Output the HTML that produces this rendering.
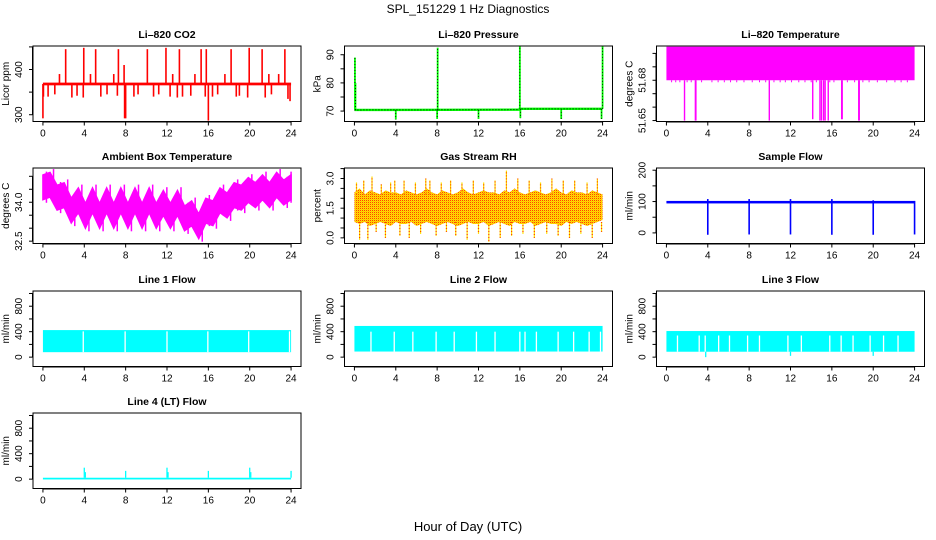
<!DOCTYPE html>
<html><head><meta charset="utf-8"><style>
html,body{margin:0;padding:0;background:#fff;}
svg{display:block;font-family:"Liberation Sans",Arial,sans-serif;}
</style></head><body>
<svg id="chart" width="936" height="540" viewBox="0 0 936 540">
<defs>
<pattern id="rhpat" width="2" height="2" patternUnits="userSpaceOnUse">
<rect width="2" height="2" fill="#ffe000"/><rect x="0" y="0" width="1" height="1" fill="#ff4000"/><rect x="1" y="1" width="1" height="1" fill="#ffc000"/>
</pattern>
</defs>
<text x="468" y="13" font-size="12" text-anchor="middle">SPL_151229  1 Hz Diagnostics</text>
<text x="468" y="531" font-size="13" text-anchor="middle">Hour of Day (UTC)</text>
</svg>
<script>
// ---- data ----
const xTicks=[0,4,8,12,16,20,24];
const co2Base=368;
const co2SpikeT=[0,0.05,0.5,1.15,1.6,2.2,2.8,3.3,3.9,3.95,4.6,5.1,5.6,6.2,6.85,7.2,7.3,7.85,7.9,8.0,8.8,9.2,10.1,10.7,11.2,11.9,12.3,12.55,13.0,13.2,13.5,14.3,14.7,15.3,15.7,15.8,16.0,16.4,16.9,17.6,18.2,18.7,19.0,19.8,19.95,21.2,21.5,21.85,22.1,22.8,23.4,23.7,23.9];
const co2SpikeV=[292,340,340,345,390,445,338,342,338,448,390,445,340,345,390,342,445,410,292,292,340,345,445,340,345,448,340,390,338,445,340,342,390,445,340,445,287,340,345,390,445,340,342,338,448,445,338,390,345,390,445,335,330];
const presBaseT=[0,16,16,24];
const presBaseV=[70.4,70.5,70.8,70.8];
const presSpikeT=[0.05,0.1,4,8,8.05,12,16,16.05,20,23.9,24];
const presSpikeV=[89,80,67,67.2,92.5,67.2,93,67.5,67.2,67.2,93];
const tempBandLo=51.680, tempBandHi=51.705;
const tempDipT=[1.75,2.8,2.85,9.95,14.15,14.85,15.0,15.2,15.35,15.65,16.95,17.0,18.6,18.65];
const tempDipV=[51.650,51.650,51.650,51.650,51.651,51.650,51.650,51.650,51.650,51.650,51.651,51.651,51.650,51.650];
const tempNotchT=[0.5,0.9,1.3,2.0,2.4,3.4,4.4,5.0,5.6,6.2,6.8,7.5,8.3,9.0,9.6,10.4,11.0,11.5,12.1,12.8,13.4,14.0,14.5,15.8,16.2,17.5,18.2,19.0,19.6,20.4,21.3,22.1,22.7,23.3];
const ambStep=0.685;
const ambCenter=[34.6,34.7,34.2,34.3,33.7,34.1,33.5,34.1,33.5,34.1,33.5,34.1,33.5,34.1,33.5,34.1,33.5,34.0,33.5,34.0,33.4,33.6,33.1,33.7,33.6,34.1,33.9,34.3,34.2,34.5,34.3,34.6,34.3,34.7,34.4,34.6];
const rhUpper=[2.3,2.5,2.2,2.4,2.3,2.2,2.4,2.3,2.3,2.2,2.4,2.3,2.2,2.3,2.5,2.3,2.2,2.4,2.3,2.2,2.3,2.5,2.3,2.2,2.3,2.4,2.3,2.3,2.2,2.4,2.3,2.5,2.3,2.2,2.3,2.4,2.3,2.2,2.3,2.5,2.3,2.2,2.4,2.3,2.3,2.2,2.4,2.3,2.2];
const rhLower=[0.8,0.7,0.8,0.6,0.7,0.8,0.7,0.6,0.8,0.7,0.7,0.8,0.6,0.7,0.8,0.7,0.6,0.7,0.8,0.7,0.6,0.7,0.8,0.7,0.7,0.8,0.6,0.7,0.8,0.7,0.6,0.8,0.7,0.7,0.8,0.6,0.7,0.8,0.7,0.7,0.6,0.8,0.7,0.8,0.7,0.6,0.7,0.8,0.9];
const rhSpikeT=[0.2,0.5,0.9,1.3,1.7,2.1,2.6,3.0,3.5,3.9,4.4,4.8,5.3,5.9,6.4,6.9,7.3,7.9,8.4,8.9,9.3,9.8,10.4,10.9,11.5,12.0,12.5,13.0,13.6,14.1,14.7,15.2,15.8,16.3,16.9,17.4,18.0,18.6,19.1,19.7,20.2,20.8,21.3,21.9,22.5,23.0,23.5,23.9];
const rhSpikeV=[2.8,-0.1,2.9,-0.1,3.1,0.3,2.7,0.0,2.8,2.9,0.1,2.9,0.0,2.8,0.2,3.0,2.9,0.1,2.8,0.3,2.9,0.1,2.8,-0.1,2.9,0.2,2.8,-0.2,2.9,0.0,3.4,0.1,3.0,0.2,2.9,0.0,2.8,0.2,3.0,0.1,2.9,0.0,2.9,0.2,2.8,0.0,3.0,0.3];
const sfBandLo=94, sfBandHi=102;
const sfDipT=[4,8,12,16,20,24];
const sfDipV=[-6,-5,-5,-6,-6,-5];
const sfUpV=[108,108,108,108,104,102];
const l1Lo=78, l1Hi=425;
const l1GapT=[3.9,7.95,12.0,15.95,19.9,23.85];
const l2Lo=88, l2Hi=490;
const l2GapT=[1.6,3.85,5.65,7.9,9.65,11.8,13.6,16.0,16.5,17.6,19.7,21.2,22.7,23.8];
const l3Lo=85, l3Hi=410;
const l3GapT=[1.07,3.17,3.75,5.05,6.1,7.85,9.0,11.75,13.05,15.8,16.9,18.05,19.7,21.0,22.4];
const l3DipT=[3.8,12.0,20.0];
const l3DipV=[0,20,20];
const l4Lo=-5, l4Hi=22;
const l4SpikeT=[4,4.1,8,12,12.1,16,20,20.1,24];
const l4SpikeV=[180,110,130,180,110,130,180,110,130];

// ---- layout ----
const NS='http://www.w3.org/2000/svg';
const svg=document.getElementById('chart');
function mk(tag,attrs,parent){const e=document.createElementNS(NS,tag);for(const k in attrs)e.setAttribute(k,attrs[k]);(parent||svg).appendChild(e);return e;}
const XLIM=[-0.96,24.96];
const colLeft=[33,344.5,656.5], rowTop=[46,168,291,413];
const W=268,H=75.5;

function panel(name,col,row,title,ylab,ylim,yTicks,yLabels){
  const L=colLeft[col],T=rowTop[row];
  const g=mk('g',{});
  
  
  const sx=t=>L+(t-XLIM[0])/(XLIM[1]-XLIM[0])*W;
  const sy=v=>T+H-(v-ylim[0])/(ylim[1]-ylim[0])*H;
  const data=mk('g',{},g);
  
  
  const ax=mk('g',{},g);
  const box=mk('rect',{x:L,y:T,width:W,height:H,fill:'none',stroke:'#000','stroke-width':1},ax);
  
  
  const tt=mk('text',{x:L+W/2,y:T-8,'font-size':10.5,'font-weight':'bold','text-anchor':'middle'},ax);
  tt.textContent=title;
  
  
  const yl=mk('text',{x:0,y:0,'font-size':10,'text-anchor':'middle',transform:`translate(${L-24},${T+H/2}) rotate(-90)`},ax);
  yl.textContent=ylab;
  
  
  mk('line',{x1:L-0.5,x2:L-0.5,y1:sy(yTicks[0]),y2:sy(yTicks[yTicks.length-1]),stroke:'#000'},ax);
  yTicks.forEach(v=>{mk('line',{x1:L-4,x2:L,y1:sy(v),y2:sy(v),stroke:'#000'},ax);});
  yLabels.forEach(s=>{
    const t=mk('text',{x:0,y:0,'font-size':10,'text-anchor':'middle',transform:`translate(${L-11},${sy(Number(s))}) rotate(-90)`},ax);
    t.textContent=String(s);
    
    
  });
  mk('line',{x1:sx(0),x2:sx(24),y1:T+H+0.5,y2:T+H+0.5,stroke:'#000'},ax);
  xTicks.forEach(v=>{
    mk('line',{x1:sx(v),x2:sx(v),y1:T+H,y2:T+H+4,stroke:'#000'},ax);
    const t=mk('text',{x:sx(v),y:T+H+15,'font-size':10,'text-anchor':'middle'},ax);
    t.textContent=String(v);
    
    
  });
  return {data,sx,sy};
}
function vline(p,t,v1,v2,color,w,extra){
  return mk('line',Object.assign({x1:p.sx(t),x2:p.sx(t),y1:p.sy(v1),y2:p.sy(v2),stroke:color,'stroke-width':w},extra||{}),p.data);
}
function band(p,t1,t2,lo,hi,color){
  return mk('rect',{x:p.sx(t1),y:p.sy(hi),width:p.sx(t2)-p.sx(t1),height:p.sy(lo)-p.sy(hi),fill:color},p.data);
}

// CO2
let p=panel('co2-panel',0,0,'Li\u2013820 CO2','Licor ppm',[285,452],[300,350,400,450],['300','400']);
band(p,0,24,co2Base-3,co2Base+3,'#ff0000');
co2SpikeT.forEach((t,i)=>{const e=vline(p,t,co2Base,co2SpikeV[i],'#ff0000',1.6);});

// Pressure
p=panel('pressure-panel',1,0,'Li\u2013820 Pressure','kPa',[66.3,93.1],[70,75,80,85,90],['70','80','90']);
const pp=presBaseT.map((t,i)=>p.sx(t)+','+p.sy(presBaseV[i])).join(' ');
const pl=mk('polyline',{points:pp,fill:'none',stroke:'#00ff00','stroke-width':2.4},p.data);

mk('polyline',{points:pp,fill:'none',stroke:'#000','stroke-width':1,'stroke-dasharray':'1,2'},p.data);
presSpikeT.forEach((t,i)=>{
  const base=t>=16?70.8:70.4;
  const e=vline(p,t,base,presSpikeV[i],'#00ff00',1.8);
  
  vline(p,t,base,presSpikeV[i],'#000',0.8,{'stroke-dasharray':'1,2'});
});

// Li-820 temperature
p=panel('li820-temp-panel',2,0,'Li\u2013820 Temperature','degrees C',[51.6493,51.7055],[51.65,51.66,51.67,51.68,51.69,51.70],['51.65','51.68']);
band(p,0,24,tempBandLo,tempBandHi,'#ff00ff');
tempNotchT.forEach(t=>{vline(p,t,tempBandLo,tempBandLo-0.0015,'#ff00ff',1);});
tempDipT.forEach((t,i)=>{const e=vline(p,t,tempBandLo,tempDipV[i],'#ff00ff',1.4);});

// Ambient box temperature
p=panel('ambient-temp-panel',0,1,'Ambient Box Temperature','degrees C',[32.41,35.32],[32.5,33,33.5,34,34.5,35],['32.5','34.0']);
{
  const up=ambCenter.map((c,i)=>p.sx(Math.min(24,i*ambStep))+','+p.sy(c+0.45));
  const lo=ambCenter.map((c,i)=>p.sx(Math.min(24,i*ambStep))+','+p.sy(c-0.5)).reverse();
  up.push(p.sx(24)+','+p.sy(ambCenter[ambCenter.length-1]+0.45));
  lo.unshift(p.sx(24)+','+p.sy(ambCenter[ambCenter.length-1]-0.5));
  const e=mk('polygon',{points:up.concat(lo).join(' '),fill:'#ff00ff',stroke:'#ff00ff','stroke-width':1.5},p.data);
  
  ambCenter.forEach((c,i)=>{
    const t=Math.min(24,i*ambStep+0.34);
    vline(p,t,c-0.62,c+0.58,'#ff00ff',1.5);
  });
}

// Gas stream RH
p=panel('rh-panel',1,1,'Gas Stream RH','percent',[-0.285,3.53],[0,0.5,1,1.5,2,2.5,3,3.5],['0.0','1.5','3.0']);
{
  const up=rhUpper.map((v,i)=>p.sx(i*0.5)+','+p.sy(v));
  const lo=rhLower.map((v,i)=>p.sx(i*0.5)+','+p.sy(v)).reverse();
  const e=mk('polygon',{points:up.concat(lo).join(' '),fill:'url(#rhpat)'},p.data);
  
  rhSpikeT.forEach((t,i)=>{
    const v=rhSpikeV[i];const base=v>1.5?2.2:0.8;
    const s=vline(p,t,base,v,'#ffe000',1.2);
    
    vline(p,t,base,v,'#ff4000',1.2,{'stroke-dasharray':'1,2'});
  });
}

// Sample flow
p=panel('sample-flow-panel',2,1,'Sample Flow','ml/min',[-33.8,207],[0,50,100,150,200],['0','100','200']);
band(p,0,24,sfBandLo,sfBandHi,'#0000ff');
sfDipT.forEach((t,i)=>{const e=vline(p,t,sfUpV[i],sfDipV[i],'#0000ff',1.6);});

// Line flows
const LY=[-147,1039],LT=[0,200,400,600,800,1000],LL=['0','400','800'];
function flowPanel(name,col,row,title,lo,hi,gaps,gapTop){
  const q=panel(name,col,row,title,'ml/min',LY,LT,LL);
  band(q,0,24,lo,hi,'#00ffff');
  gaps.forEach(t=>{const e=vline(q,t,lo,gapTop,'#ffffff',1.3);});
  return q;
}
flowPanel('line1-flow-panel',0,2,'Line 1 Flow',l1Lo,l1Hi,l1GapT,l1Hi-20);
flowPanel('line2-flow-panel',1,2,'Line 2 Flow',l2Lo,l2Hi,l2GapT,l2Hi-90);
p=flowPanel('line3-flow-panel',2,2,'Line 3 Flow',l3Lo,l3Hi,l3GapT,l3Hi-70);
l3DipT.forEach((t,i)=>{const e=vline(p,t,l3Lo,l3DipV[i],'#00ffff',1.3);});

p=panel('line4-flow-panel',0,3,'Line 4 (LT) Flow','ml/min',LY,LT,LL);
band(p,0,24,l4Lo,l4Hi,'#00ffff');
l4SpikeT.forEach((t,i)=>{const e=vline(p,t,l4Hi,l4SpikeV[i],'#00ffff',1.3);});
</script>
</body></html>
